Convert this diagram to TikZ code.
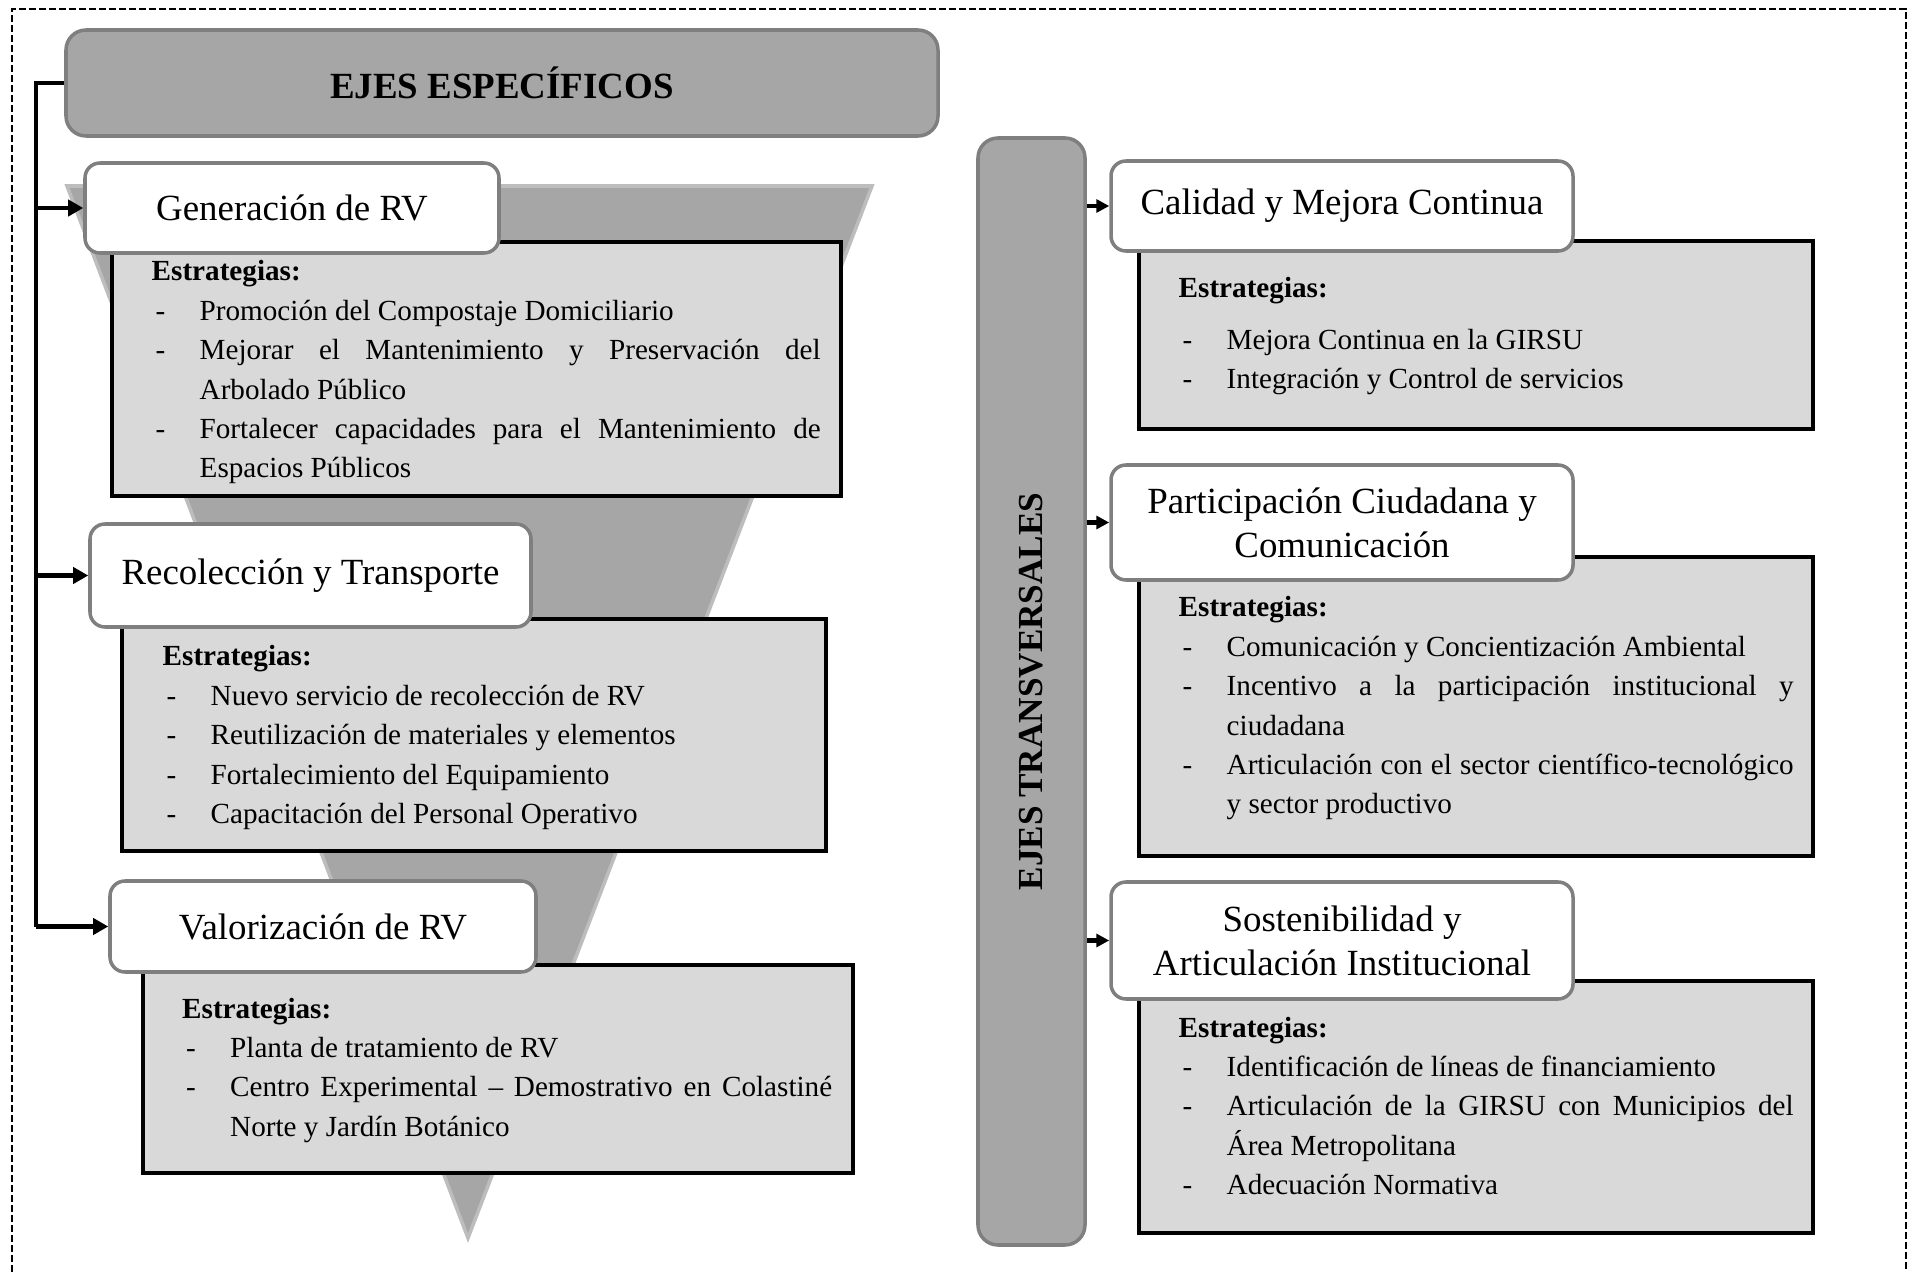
\documentclass[tikz,border=0pt]{standalone}
\usepackage{fontspec}
\setmainfont{Liberation Serif}
\usepackage{xcolor}
\usetikzlibrary{arrows.meta, positioning, calc}

\definecolor{axisgray}{HTML}{A6A6A6}
\definecolor{framegray}{HTML}{7F7F7F}
\definecolor{boxgray}{HTML}{D9D9D9}
\definecolor{rimgray}{HTML}{BDBDBD}

\newcommand{\strathead}{\noindent\textbf{Estrategias:}}
\newcommand{\stratitem}[1]{\par\hangindent=0.48cm\hangafter=1\noindent\makebox[0.48cm][l]{\hspace{0.04cm}-}#1\par}

\tikzset{
    axisbox/.style={draw=framegray, line width=1pt, fill=axisgray, rounded corners=0.2cm, inner sep=0pt},
    titlebox/.style={draw=framegray, line width=1pt, fill=white, rounded corners=0.15cm, inner sep=0pt,
        align=center, font=\fontsize{10.5}{12.5}\selectfont},
    stratbox/.style={draw=black, line width=0.9pt, fill=boxgray},
    strattext/.style={anchor=base west, inner sep=0pt, align=justify, font=\fontsize{8.3}{11.2}\selectfont},
    link/.style={line width=1.2pt, -{Triangle[length=1.5mm,width=1.6mm]}},
    sidelink/.style={line width=1.2pt, -{Triangle[length=1.3mm,width=1.3mm]}},
}

\begin{document}
\begin{tikzpicture}
    \useasboundingbox (0,0) rectangle (19.10,12.72);

    % Outer frame
    \draw[line width=0.6pt, dash pattern=on 0.07cm off 0.03cm]
        (0.12,0) -- (0.12,12.63) -- (19.06,12.63) -- (19.06,0);

    % Funnel
    \filldraw[fill=axisgray, draw=rimgray, line width=1pt] (0.67,10.86) -- (8.72,10.86) -- (4.68,0.34) -- cycle;

    % Header
    \node[axisbox, minimum width=8.72cm, minimum height=1.06cm, font=\fontsize{10.5}{12.5}\selectfont\bfseries]
        (hdr) at (5.02,11.89) {EJES ESPECÍFICOS};

    % Strategy boxes, left
    \draw[stratbox] (1.12,10.30) rectangle (8.41,7.76);
    \draw[stratbox] (1.22,6.53) rectangle (8.26,4.21);
    \draw[stratbox] (1.43,3.07) rectangle (8.53,0.99);

    \node[strattext, text width=6.69cm] (s1txt) at (1.51,9.91) {\strathead
        \stratitem{Promoción del Compostaje Domiciliario}
        \stratitem{Mejorar el Mantenimiento y Preservación del\linebreak Arbolado Público}
        \stratitem{Fortalecer capacidades para el Mantenimiento de\linebreak Espacios Públicos}};
    \node[strattext, text width=6.6cm] (s2txt) at (1.62,6.06) {\strathead
        \stratitem{Nuevo servicio de recolección de RV}
        \stratitem{Reutilización de materiales y elementos}
        \stratitem{Fortalecimiento del Equipamiento}
        \stratitem{Capacitación del Personal Operativo}};
    \node[strattext, text width=6.5cm] (s3txt) at (1.815,2.54) {\strathead
        \stratitem{Planta de tratamiento de RV}
        \stratitem{Centro Experimental -- Demostrativo en Colastiné\linebreak Norte y Jardín Botánico}};

    % Axis titles, left
    \node[titlebox, minimum width=4.14cm, minimum height=0.90cm] (t1) at (2.92,10.64) {Generación de RV};
    \node[titlebox, minimum width=4.41cm, minimum height=1.03cm] (t2) at (3.105,6.965) {Recolección y Transporte};
    \node[titlebox, minimum width=4.26cm, minimum height=0.91cm] (t3) at (3.23,3.455) {Valorización de RV};

    % Bracket
    \coordinate (spine) at (0.36,11.89);
    \draw[line width=1.2pt] (hdr.west) -- (spine) -- (spine |- t3.west);
    \foreach \t in {t1,t2,t3}
        \draw[link] (spine |- \t.west) -- (\t.west);

    % Transversal bar
    \node[axisbox, rotate=90, minimum width=11.07cm, minimum height=1.07cm, font=\fontsize{10}{12}\selectfont\bfseries]
        (bar) at (10.315,5.805) {EJES TRANSVERSALES};

    % Strategy boxes, right
    \draw[stratbox] (11.39,10.31) rectangle (18.13,8.43);
    \draw[stratbox] (11.39,7.15) rectangle (18.13,4.16);
    \draw[stratbox] (11.39,2.91) rectangle (18.13,0.39);

    \node[strattext, text width=6.15cm] (satxt) at (11.78,9.74) {\strathead\par\vspace{0.12cm}
        \stratitem{Mejora Continua en la GIRSU}
        \stratitem{Integración y Control de servicios}};
    \node[strattext, text width=6.15cm] (sbtxt) at (11.78,6.55) {\strathead
        \stratitem{Comunicación y Concientización Ambiental}
        \stratitem{Incentivo a la participación institucional y\linebreak ciudadana}
        \stratitem{Articulación con el sector científico-tecnológico\linebreak y sector productivo}};
    \node[strattext, text width=6.15cm] (sctxt) at (11.78,2.35) {\strathead
        \stratitem{Identificación de líneas de financiamiento}
        \stratitem{Articulación de la GIRSU con Municipios del\linebreak Área Metropolitana}
        \stratitem{Adecuación Normativa}};

    % Axis titles, right
    \node[titlebox, minimum width=4.62cm, minimum height=0.90cm] (ta) at (13.42,10.66) {Calidad y Mejora Continua};
    \node[titlebox, minimum width=4.62cm, minimum height=1.15cm] (tb) at (13.42,7.495) {Participación Ciudadana y\\Comunicación};
    \node[titlebox, minimum width=4.62cm, minimum height=1.17cm] (tc) at (13.42,3.315) {Sostenibilidad y\\Articulación Institucional};

    \foreach \t in {ta,tb,tc}
        \draw[sidelink] (bar.south |- \t.west) -- (\t.west);
\end{tikzpicture}
\end{document}
